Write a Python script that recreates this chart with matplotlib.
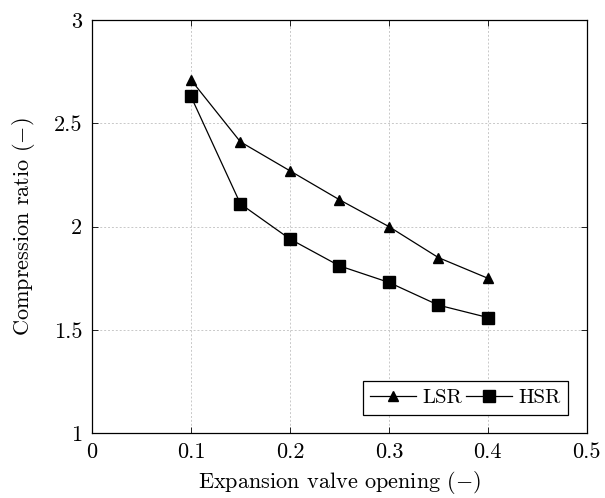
import matplotlib
matplotlib.use("Agg")
import matplotlib.pyplot as plt

# valve opening vs compression ratio for the two rotor speeds
opening = [0.10, 0.15, 0.20, 0.25, 0.30, 0.35, 0.40]
lsr_ratio = [2.71, 2.41, 2.27, 2.13, 2.00, 1.85, 1.75]
hsr_ratio = [2.63, 2.11, 1.94, 1.81, 1.73, 1.62, 1.56]

x_ticks = [0, 0.1, 0.2, 0.3, 0.4, 0.5]
x_tick_labels = ["0", "0.1", "0.2", "0.3", "0.4", "0.5"]
y_ticks = [1, 1.5, 2, 2.5, 3]
y_tick_labels = ["1", "1.5", "2", "2.5", "3"]

plt.rcParams["font.family"] = "cmr10"
plt.rcParams["mathtext.fontset"] = "cm"
plt.rcParams["axes.unicode_minus"] = False

fig = plt.figure(figsize=(6.05, 4.98), dpi=100)
ax = fig.add_axes([0.152, 0.130, 0.818, 0.830])

ax.plot(opening, lsr_ratio, color="black", lw=0.9, marker="^", ms=7, label="LSR")
ax.plot(opening, hsr_ratio, color="black", lw=0.9, marker="s", ms=8.5, label="HSR")

ax.set_xlim(0, 0.5)
ax.set_ylim(1, 3)
ax.set_xticks(x_ticks)
ax.set_xticklabels(x_tick_labels)
ax.set_yticks(y_ticks)
ax.set_yticklabels(y_tick_labels)
ax.tick_params(direction="in", length=4, width=0.6, labelsize=16, pad=7,
               top=True, right=True)
ax.grid(True, color="#c8c8c8", ls=(0, (2, 2)), lw=0.7)

for s in ax.spines.values():
    s.set_linewidth(0.9)

ax.set_xlabel(r"Expansion valve opening $(-)$", fontsize=16, labelpad=5)
ax.set_ylabel(r"Compression ratio $(-)$", fontsize=16, labelpad=12)

leg = ax.legend(loc="lower right", ncol=2, fontsize=15, frameon=True,
                fancybox=False, edgecolor="black", framealpha=1,
                handlelength=2.2, handletextpad=0.3, columnspacing=0.2,
                borderpad=0.35, borderaxespad=0.9)
leg.get_frame().set_linewidth(0.9)

fig.savefig("out.png", dpi=100)
